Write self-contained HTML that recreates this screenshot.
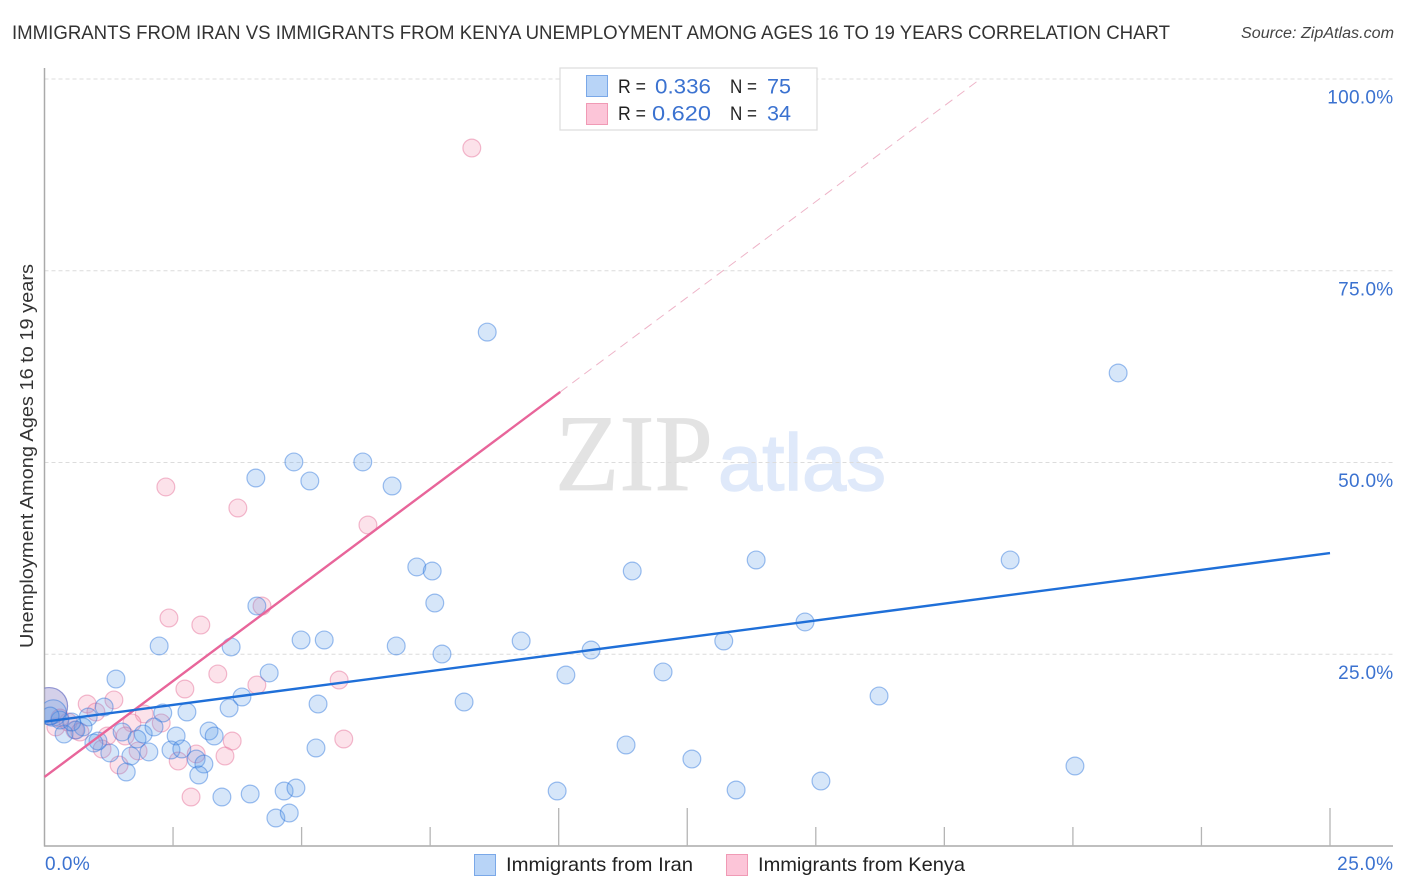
<!DOCTYPE html>
<html lang="en">
<head>
<meta charset="utf-8">
<title>Immigrants from Iran vs Immigrants from Kenya Unemployment Correlation Chart</title>
<style>
html,body{margin:0;padding:0;background:#fff;}
svg{display:block;font-family:"Liberation Sans",sans-serif;}
</style>
</head>
<body>
<svg id="chart" width="1406" height="892" viewBox="0 0 1406 892" xmlns="http://www.w3.org/2000/svg">
  <defs><clipPath id="plot-clip"><rect x="44.5" y="60" width="1350" height="786"/></clipPath></defs>
  <text x="12" y="39" font-size="19.5" fill="#333" textLength="1158" lengthAdjust="spacingAndGlyphs">IMMIGRANTS FROM IRAN VS IMMIGRANTS FROM KENYA UNEMPLOYMENT AMONG AGES 16 TO 19 YEARS CORRELATION CHART</text>
  <text x="1241" y="38" font-size="15.5" font-style="italic" fill="#444" textLength="153" lengthAdjust="spacingAndGlyphs">Source: ZipAtlas.com</text>
  <g>
    <text x="555" y="490" font-family="'Liberation Serif',serif" font-size="109" fill="#e3e3e3" stroke="#e3e3e3" stroke-width="0.8" textLength="158" lengthAdjust="spacingAndGlyphs">ZIP</text>
    <text x="718" y="490" font-size="80" fill="#dfe9fa" stroke="#dfe9fa" stroke-width="1.5" textLength="168" lengthAdjust="spacingAndGlyphs">atlas</text>
  </g>
  <g id="grid"></g>
  <g id="axes"></g>
  <g id="points" clip-path="url(#plot-clip)"></g>
  <g id="trends"></g>
  <text transform="translate(33,456) rotate(-90)" text-anchor="middle" font-size="18.5" fill="#333" textLength="384" lengthAdjust="spacingAndGlyphs">Unemployment Among Ages 16 to 19 years</text>

  <g>
    <rect x="560" y="68" width="257" height="62" fill="#fff" stroke="#dcdcdc" stroke-width="1.2"/>
    <rect x="586.5" y="75.5" width="21" height="21" fill="#b8d4f7" stroke="#7aa8e8" stroke-width="1"/>
    <rect x="586.5" y="103.5" width="21" height="21" fill="#fcc5d8" stroke="#f09ab5" stroke-width="1"/>
    <g font-size="19" fill="#222">
      <text x="618" y="93" textLength="28" lengthAdjust="spacingAndGlyphs">R =</text>
      <text x="730" y="93" textLength="27" lengthAdjust="spacingAndGlyphs">N =</text>
      <text x="618" y="120" textLength="28" lengthAdjust="spacingAndGlyphs">R =</text>
      <text x="730" y="120" textLength="27" lengthAdjust="spacingAndGlyphs">N =</text>
    </g>
    <g font-size="21" fill="#3b72d0">
      <text x="655" y="93.5" textLength="56" lengthAdjust="spacingAndGlyphs">0.336</text>
      <text x="767" y="93.5" textLength="24" lengthAdjust="spacingAndGlyphs">75</text>
      <text x="652" y="120.5" textLength="59" lengthAdjust="spacingAndGlyphs">0.620</text>
      <text x="767" y="120.5" textLength="24" lengthAdjust="spacingAndGlyphs">34</text>
    </g>
  </g>

  <g>
    <rect x="474.5" y="854.5" width="21" height="21" fill="#b8d4f7" stroke="#7aa8e8" stroke-width="1"/>
    <text x="506" y="871" font-size="19.5" fill="#222" textLength="187" lengthAdjust="spacingAndGlyphs">Immigrants from Iran</text>
    <rect x="726.5" y="854.5" width="21" height="21" fill="#fcc5d8" stroke="#f09ab5" stroke-width="1"/>
    <text x="758" y="871" font-size="19.5" fill="#222" textLength="207" lengthAdjust="spacingAndGlyphs">Immigrants from Kenya</text>
  </g>
</svg>
<script>
const yTickValues = [25, 50, 75, 100];
const yTickLabels = ["25.0%", "50.0%", "75.0%", "100.0%"];
const xTickValues = [0, 2.5, 5, 7.5, 10, 12.5, 15, 17.5, 20, 22.5, 25];
const xMajorTicks = [10, 12.5, 25];
const xEndValues = [0, 25];
const xEndLabels = ["0.0%", "25.0%"];

const iranX = [8.61,20.88,4.85,6.19,5.16,4.11,6.76,7.24,7.54,11.43,13.84,18.78,7.59,4.13,2.23,3.63,4.99,5.44,6.84,7.73,9.27,10.63,13.21,14.79,1.39,4.37,10.14,12.03,3.84,3.59,5.32,8.16,16.23,2.77,2.30,1.16,0.85,0.75,0.61,0.38,0.53,0.30,1.51,1.92,1.80,2.13,1.04,0.96,1.27,1.68,2.03,2.56,2.46,2.67,3.20,3.30,2.95,3.10,3.00,1.59,3.45,4.00,4.66,4.89,4.50,4.76,5.28,11.31,12.59,20.04,9.97,13.45,15.10,0.11];
const iranY = [67.0,61.67,50.07,50.07,47.59,47.98,46.94,36.38,35.85,35.85,37.29,37.29,31.68,31.29,26.08,25.95,26.86,26.86,26.08,25.03,26.73,25.55,26.73,29.21,21.77,22.56,22.29,22.69,19.43,17.99,18.51,18.77,19.56,17.47,17.34,18.12,16.82,15.52,15.12,14.60,16.17,16.43,14.86,14.60,13.95,15.52,13.69,13.43,12.13,11.73,12.26,14.34,12.52,12.65,14.99,14.34,11.34,10.69,9.26,9.65,6.39,6.78,7.17,7.56,3.65,4.30,12.78,13.17,11.34,10.43,7.17,7.30,8.47,16.95];
const iranClusterX = [0.09, 0.17];
const iranClusterY = [18.25, 17.34];
const iranClusterWeight = [4.3, 2.2];

const kenyaX = [8.31,2.36,3.76,6.29,4.23,2.42,3.04,3.37,5.73,4.13,2.73,1.35,0.83,1.00,1.94,2.27,1.70,1.22,1.57,1.82,1.12,1.45,2.60,2.95,3.65,3.51,2.85,5.82,0.22,0.59,0.46,0.30,0.69];
const kenyaY = [91.0,46.81,44.07,41.85,31.29,29.73,28.81,22.43,21.64,20.99,20.47,19.04,18.51,17.47,17.21,16.04,16.04,14.34,14.34,12.39,12.65,10.56,11.08,12.0,13.69,11.73,6.39,13.95,15.52,15.12,16.17,16.69,14.86];
const kenyaClusterX = [0.09];
const kenyaClusterY = [18.25];
const kenyaClusterWeight = [4.3];

const iranTrendX = [0, 25];
const iranTrendY = [16.2, 38.2];
const kenyaTrendX = [0, 10.03];
const kenyaTrendY = [9.0, 59.2];
const kenyaProjectionX = [10.03, 18.2];
const kenyaProjectionY = [59.2, 100];

const NS = "http://www.w3.org/2000/svg";
const sx = v => 44.5 + v * 51.42;
const sy = v => 846 - v * 7.67;
const make = (parent, tag, attrs) => {
  const el = document.createElementNS(NS, tag);
  for (const k in attrs) el.setAttribute(k, attrs[k]);
  parent.appendChild(el);
  return el;
};
const grid = document.getElementById("grid");
const axes = document.getElementById("axes");
const points = document.getElementById("points");
const trends = document.getElementById("trends");

yTickValues.forEach((v, i) => {
  const line = make(grid, "line", {x1: 44.5, x2: 1393, y1: sy(v), y2: sy(v), stroke: "#dcdcdc", "stroke-width": 1, "stroke-dasharray": "4 3"});
  
  
  const label = make(axes, "text", {x: 1393.5, y: sy(v) + 24.5, "text-anchor": "end", "font-size": 19, "letter-spacing": 0.3, fill: "#3b72d0"});
  
  
  label.textContent = yTickLabels[i];
});

const yAxis = make(axes, "line", {x1: 44.5, x2: 44.5, y1: 68, y2: 846.5, stroke: "#aaa", "stroke-width": 1.5});


const xAxis = make(axes, "line", {x1: 44, x2: 1393, y1: 846, y2: 846, stroke: "#aaa", "stroke-width": 1.5});



xTickValues.forEach(v => {
  if (v === 0) return;
  const top = xMajorTicks.includes(v) ? 808 : 827;
  const tick = make(axes, "line", {x1: sx(v), x2: sx(v), y1: top, y2: 846, stroke: "#b5b5b5", "stroke-width": 1.3});
  
  
});

xEndValues.forEach((v, i) => {
  const label = make(axes, "text", {x: v === 0 ? 45 : 1393.5, y: 870, "text-anchor": v === 0 ? "start" : "end", "font-size": 19, "letter-spacing": 0.5, fill: "#3b72d0"});
  
  
  label.textContent = xEndLabels[i];
});

const R = 8.9;
const styleKenya = {fill: "#f4a0ba", "fill-opacity": 0.3, stroke: "#e56a94", "stroke-opacity": 0.45, "stroke-width": 1.2};
const styleIran = {fill: "#5a9be8", "fill-opacity": 0.25, stroke: "#2a74dc", "stroke-opacity": 0.45, "stroke-width": 1.2};

kenyaClusterX.forEach((v, i) => {
  const c = make(points, "circle", Object.assign({cx: sx(v), cy: sy(kenyaClusterY[i]), r: R * Math.sqrt(kenyaClusterWeight[i])}, styleKenya));
  
  
});
kenyaX.forEach((v, i) => {
  const c = make(points, "circle", Object.assign({cx: sx(v), cy: sy(kenyaY[i]), r: R}, styleKenya));
  
  
});
iranClusterX.forEach((v, i) => {
  const c = make(points, "circle", Object.assign({cx: sx(v), cy: sy(iranClusterY[i]), r: R * Math.sqrt(iranClusterWeight[i])}, styleIran));
  
  
});
iranX.forEach((v, i) => {
  const c = make(points, "circle", Object.assign({cx: sx(v), cy: sy(iranY[i]), r: R}, styleIran));
  
  
});

const projection = make(trends, "line", {x1: sx(kenyaProjectionX[0]), y1: sy(kenyaProjectionY[0]), x2: sx(kenyaProjectionX[1]), y2: sy(kenyaProjectionY[1]), stroke: "#eeb4c8", "stroke-width": 1, "stroke-dasharray": "9 6"});


const kenyaLine = make(trends, "line", {x1: sx(kenyaTrendX[0]), y1: sy(kenyaTrendY[0]), x2: sx(kenyaTrendX[1]), y2: sy(kenyaTrendY[1]), stroke: "#e8659a", "stroke-width": 2.4});


const iranLine = make(trends, "line", {x1: sx(iranTrendX[0]), y1: sy(iranTrendY[0]), x2: sx(iranTrendX[1]), y2: sy(iranTrendY[1]), stroke: "#1f6fd8", "stroke-width": 2.4});


</script>
</body>
</html>
